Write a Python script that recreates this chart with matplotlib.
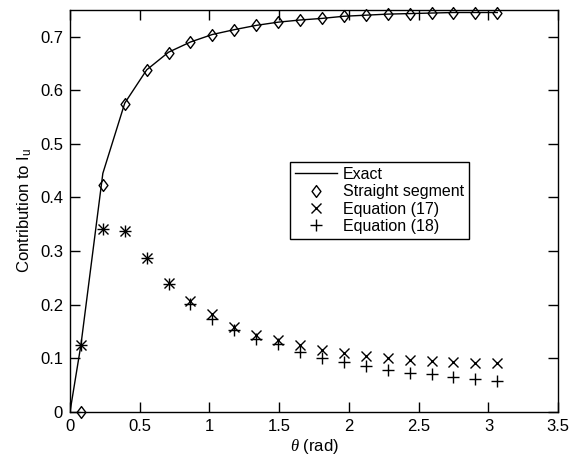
import matplotlib
matplotlib.use('Agg')
import matplotlib.pyplot as plt
from matplotlib.path import Path

plt.rcParams['font.family'] = ['Liberation Sans', 'DejaVu Sans']
plt.rcParams['mathtext.fontset'] = 'custom'
plt.rcParams['mathtext.rm'] = 'Liberation Sans'
plt.rcParams['mathtext.it'] = 'Liberation Serif:italic'

# angle samples (rad)
theta = [0.0785, 0.2356, 0.3927, 0.5498, 0.7069, 0.8639, 1.0210, 1.1781,
         1.3352, 1.4923, 1.6493, 1.8064, 1.9635, 2.1206, 2.2777, 2.4347,
         2.5918, 2.7489, 2.9060, 3.0631]

exact_x = [0.0] + theta
exact_y = [0.0, 0.125, 0.445, 0.576, 0.638, 0.671, 0.690, 0.704, 0.713,
           0.721, 0.727, 0.731, 0.734, 0.738, 0.740, 0.742, 0.743, 0.744,
           0.745, 0.745, 0.745]

straight = [0.0, 0.423, 0.574, 0.637, 0.670, 0.690, 0.703, 0.713, 0.721,
            0.727, 0.731, 0.734, 0.739, 0.740, 0.742, 0.743, 0.745, 0.745,
            0.745, 0.745]

eq17 = [0.124, 0.342, 0.338, 0.287, 0.240, 0.206, 0.182, 0.159, 0.144,
        0.134, 0.124, 0.116, 0.110, 0.104, 0.100, 0.097, 0.095, 0.093,
        0.092, 0.092]

eq18 = [0.124, 0.342, 0.338, 0.287, 0.238, 0.202, 0.174, 0.152, 0.136,
        0.126, 0.111, 0.100, 0.093, 0.086, 0.078, 0.073, 0.070, 0.065,
        0.062, 0.058]

# diamond a bit wider than matplotlib's thin 'd'
diamond = Path([(0, 1), (0.75, 0), (0, -1), (-0.75, 0), (0, 1)],
               [Path.MOVETO, Path.LINETO, Path.LINETO, Path.LINETO, Path.CLOSEPOLY])

fig = plt.figure(figsize=(5.69, 4.68), dpi=100)
ax = fig.add_axes([0.123, 0.12, 0.858, 0.859])

ax.plot(exact_x, exact_y, 'k-', lw=1, label='Exact')
ax.plot(theta, straight, color='k', ls='none', marker=diamond, ms=8.5,
        mfc='none', mew=1, clip_on=False, label='Straight segment')
ax.plot(theta, eq17, 'kx', ms=7, mew=1, label='Equation (17)')
ax.plot(theta, eq18, 'k+', ms=9, mew=1, label='Equation (18)')

ax.set_xlim(0, 3.5)
ax.set_ylim(0, 0.75)
ax.set_xticks([0, 0.5, 1, 1.5, 2, 2.5, 3, 3.5])
ax.set_xticklabels(['0', '0.5', '1', '1.5', '2', '2.5', '3', '3.5'])
ax.set_yticks([0, 0.1, 0.2, 0.3, 0.4, 0.5, 0.6, 0.7])
ax.set_yticklabels(['0', '0.1', '0.2', '0.3', '0.4', '0.5', '0.6', '0.7'])
ax.tick_params(direction='in', top=True, right=True, length=7, width=1,
               labelsize=12, pad=5)
for s in ax.spines.values():
    s.set_linewidth(1)

ax.set_xlabel(r'$\it{\theta}$ (rad)', fontsize=12, labelpad=2)
ax.set_ylabel(r'Contribution to I$_{\rm u}$', fontsize=12, labelpad=4)

leg = ax.legend(loc='center', bbox_to_anchor=(0.634, 0.526), fontsize=11.5,
                fancybox=False, edgecolor='k', framealpha=1,
                handlelength=2.6, handletextpad=0.4, borderpad=0.3,
                labelspacing=0.15, borderaxespad=0)
leg.get_frame().set_linewidth(1)

fig.savefig('out.png', dpi=100)
